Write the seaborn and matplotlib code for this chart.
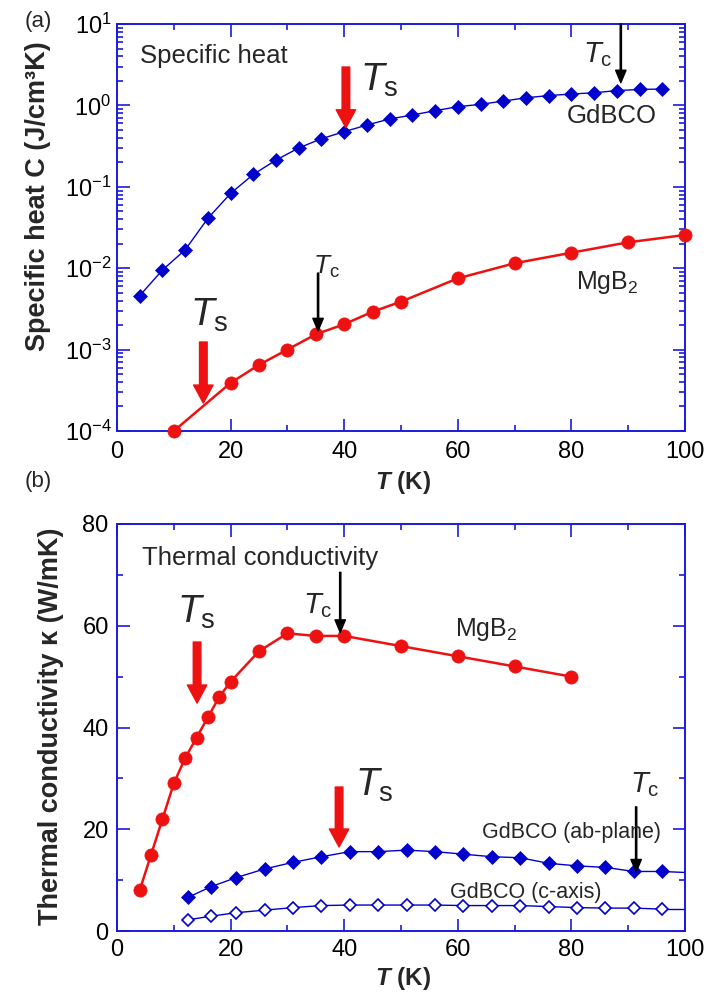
import matplotlib
matplotlib.use('Agg')
import matplotlib.pyplot as plt
import seaborn as sns
from matplotlib.ticker import MultipleLocator, LogLocator, NullFormatter

# ---------------- data ----------------
# (a) specific heat
gd_T_c = [4, 8, 12, 16, 20, 24, 28, 32, 36, 40, 44, 48, 52, 56, 60, 64, 68, 72, 76, 80, 84, 88, 92, 96]
gd_C = [0.0046, 0.0095, 0.0168, 0.041, 0.083, 0.142, 0.213, 0.30, 0.39, 0.475,
        0.574, 0.681, 0.762, 0.861, 0.964, 1.03, 1.13, 1.24, 1.32, 1.38, 1.43, 1.52, 1.57, 1.59]
mg_T_c = [10, 20, 25, 30, 35, 40, 45, 50, 60, 70, 80, 90, 100]
mg_C = [1.0e-4, 3.9e-4, 6.5e-4, 1.0e-3, 1.54e-3, 2.05e-3, 2.92e-3, 3.88e-3,
        7.5e-3, 1.15e-2, 1.55e-2, 2.08e-2, 2.56e-2]

# (b) thermal conductivity
mg_T_k = [4, 6, 8, 10, 12, 14, 16, 18, 20, 25, 30, 35, 40, 50, 60, 70, 80]
mg_k = [8, 15, 22, 29, 34, 38, 42, 46, 49, 55, 58.5, 58, 58, 56, 54, 52, 50]
ab_T = [12.5, 16.5, 21, 26, 31, 36, 41, 46, 51, 56, 61, 66, 71, 76, 81, 86, 91, 96]
ab_k = [6.6, 8.7, 10.5, 12.2, 13.5, 14.6, 15.6, 15.6, 15.9, 15.6, 15.1, 14.6, 14.4,
        13.3, 12.8, 12.5, 11.7, 11.7]
c_T = [12.5, 16.5, 21, 26, 31, 36, 41, 46, 51, 56, 61, 66, 71, 76, 81, 86, 91, 96]
c_k = [2.2, 2.9, 3.6, 4.1, 4.6, 5.0, 5.1, 5.1, 5.1, 5.1, 5.0, 5.0, 5.0, 4.8, 4.6,
       4.5, 4.5, 4.3]
# fitted-line continuation beyond the last measured point (to the axis edge)
tail_T = [96, 100]
ab_tail_k = [11.7, 11.5]
c_tail_k = [4.3, 4.3]

x_ticks = [0, 20, 40, 60, 80, 100]
k_ticks = [0, 20, 40, 60, 80]

# ---------------- style ----------------
sns.set_theme(style='white')
plt.rcParams['font.family'] = ['Liberation Sans', 'DejaVu Sans']
plt.rcParams.update({
    'mathtext.fontset': 'custom',
    'mathtext.rm': 'Liberation Sans',
    'mathtext.it': 'Liberation Sans:italic',
    'mathtext.bf': 'Liberation Sans:italic:bold',
    'axes.unicode_minus': False,
})

BLUE = '#0000cc'
AXBLUE = '#1a1ae0'
RED = '#ee1111'

fig = plt.figure(figsize=(7.2, 9.94), dpi=100)
ax1 = fig.add_axes([117 / 720, 1 - 431 / 994, 568 / 720, 407 / 994])
ax2 = fig.add_axes([117 / 720, 1 - 931 / 994, 568 / 720, 407 / 994])


def style(ax):
    ax.set_facecolor('white')
    for s in ax.spines.values():
        s.set_visible(True)
        s.set_color(AXBLUE)
        s.set_linewidth(1.4)
    ax.tick_params(which='both', direction='in', top=True, right=True, bottom=True,
                   left=True, color=AXBLUE, width=1.2, labelsize=17,
                   labelcolor='black')
    ax.tick_params(which='major', length=9)
    ax.tick_params(which='minor', length=4.5)
    ax.grid(False)


def arrow(ax, x, y0, y1, color, big):
    if big:
        props = dict(facecolor=color, edgecolor=color, width=5.5, headwidth=14,
                     headlength=13, shrink=0)
    else:
        props = dict(facecolor=color, edgecolor=color, width=0.9, headwidth=7.5,
                     headlength=9, shrink=0)
    ax.annotate('', xy=(x, y1), xytext=(x, y0), arrowprops=props,
                annotation_clip=False)


# ---------------- (a) ----------------
ax1.set_yscale('log')
sns.lineplot(x=gd_T_c, y=gd_C, ax=ax1, color=BLUE, linewidth=1.0, marker='D',
             markersize=7.5, markerfacecolor=BLUE, markeredgecolor=BLUE,
             markeredgewidth=0.5, errorbar=None, clip_on=False, zorder=3)
sns.lineplot(x=mg_T_c, y=mg_C, ax=ax1, color=RED, linewidth=1.8, marker='o',
             markersize=9.5, markerfacecolor=RED, markeredgecolor=RED,
             markeredgewidth=0.5, errorbar=None, clip_on=False, zorder=3)
ax1.set_xlim(0, 100)
ax1.set_ylim(1e-4, 10)
style(ax1)
ax1.set_xticks(x_ticks)
ax1.xaxis.set_minor_locator(MultipleLocator(10))
ax1.yaxis.set_major_locator(LogLocator(base=10, numticks=10))
ax1.yaxis.set_minor_locator(LogLocator(base=10, subs=range(2, 10), numticks=20))
ax1.yaxis.set_minor_formatter(NullFormatter())
ax1.tick_params(axis='x', pad=7)
ax1.tick_params(axis='y', pad=4)

ax1.set_ylabel('Specific heat C (J/cm³K)', fontsize=19.5, fontweight='bold')
ax1.yaxis.set_label_coords((38 - 117) / 568, (431 - 196) / 407)
ax1.yaxis.label.set_verticalalignment('center')
ax1.set_xlabel(r'$\mathbf{T}$ (K)', fontsize=17.5, fontweight='bold')
ax1.xaxis.set_label_coords((403 - 117) / 568, (431 - 483) / 407)
ax1.xaxis.label.set_verticalalignment('center')

ax1.text(4.0, 4.1, 'Specific heat', fontsize=18.5, va='center', ha='left')
ax1.text(42.8, 2.05, r'$T_\mathrm{s}$', fontsize=28, va='center', ha='left')
arrow(ax1, 40.3, 2.96, 0.53, RED, True)
ax1.text(82.0, 4.16, r'$T_\mathrm{c}$', fontsize=21, va='center', ha='left')
arrow(ax1, 88.7, 10, 1.9, 'black', False)
ax1.text(87.1, 0.741, 'GdBCO', fontsize=18.5, va='center', ha='center')
ax1.text(86.4, 6.6e-3, r'MgB$_2$', fontsize=18, va='center', ha='center')
ax1.text(34.5, 1.03e-2, r'$T_\mathrm{c}$', fontsize=19, va='center', ha='left')
arrow(ax1, 35.4, 8.7e-3, 1.7e-3, 'black', False)
ax1.text(12.9, 2.66e-3, r'$T_\mathrm{s}$', fontsize=28, va='center', ha='left')
arrow(ax1, 15.2, 1.24e-3, 2.2e-4, RED, True)

# ---------------- (b) ----------------
sns.lineplot(x=mg_T_k, y=mg_k, ax=ax2, color=RED, linewidth=1.8, marker='o',
             markersize=9.5, markerfacecolor=RED, markeredgecolor=RED,
             markeredgewidth=0.5, errorbar=None, clip_on=False, zorder=3)
sns.lineplot(x=ab_T, y=ab_k, ax=ax2, color=BLUE, linewidth=1.0, marker='D',
             markersize=7.2, markerfacecolor=BLUE, markeredgecolor=BLUE,
             markeredgewidth=0.5, errorbar=None, zorder=3)
sns.lineplot(x=tail_T, y=ab_tail_k, ax=ax2, color=BLUE, linewidth=1.0,
             errorbar=None, zorder=2)
sns.lineplot(x=c_T, y=c_k, ax=ax2, color=BLUE, linewidth=1.0, marker='D',
             markersize=6.5, markerfacecolor='white', markeredgecolor=BLUE,
             markeredgewidth=1.2, errorbar=None, zorder=3)
sns.lineplot(x=tail_T, y=c_tail_k, ax=ax2, color=BLUE, linewidth=1.0,
             errorbar=None, zorder=2)
ax2.set_xlim(0, 100)
ax2.set_ylim(0, 80)
style(ax2)
ax2.set_xticks(x_ticks)
ax2.set_yticks(k_ticks)
ax2.xaxis.set_minor_locator(MultipleLocator(10))
ax2.yaxis.set_minor_locator(MultipleLocator(10))
ax2.tick_params(axis='x', pad=6)
ax2.tick_params(axis='y', pad=6)

ax2.set_ylabel('Thermal conductivity κ (W/mK)', fontsize=19.5, fontweight='bold')
ax2.yaxis.set_label_coords((51 - 117) / 568, (931 - 726) / 407)
ax2.yaxis.label.set_verticalalignment('center')
ax2.set_xlabel(r'$\mathbf{T}$ (K)', fontsize=17.5, fontweight='bold')
ax2.xaxis.set_label_coords((403 - 117) / 568, (931 - 978) / 407)
ax2.xaxis.label.set_verticalalignment('center')

ax2.text(4.4, 73.3, 'Thermal conductivity', fontsize=18.5, va='center', ha='left')
ax2.text(10.6, 62.7, r'$T_\mathrm{s}$', fontsize=28, va='center', ha='left')
arrow(ax2, 14.1, 56.8, 44.8, RED, True)
ax2.text(32.7, 64.0, r'$T_\mathrm{c}$', fontsize=21, va='center', ha='left')
arrow(ax2, 39.3, 70.5, 58.7, 'black', False)
ax2.text(65.0, 59.3, r'MgB$_2$', fontsize=18, va='center', ha='center')
ax2.text(41.9, 28.7, r'$T_\mathrm{s}$', fontsize=28, va='center', ha='left')
arrow(ax2, 39.1, 28.3, 16.5, RED, True)
ax2.text(90.3, 28.7, r'$T_\mathrm{c}$', fontsize=21, va='center', ha='left')
arrow(ax2, 91.4, 24.4, 11.6, 'black', False)
ax2.text(80.1, 19.3, 'GdBCO (ab-plane)', fontsize=15.5, va='center', ha='center')
ax2.text(72.0, 7.5, 'GdBCO (c-axis)', fontsize=15.5, va='center', ha='center')

fig.text(38 / 720, 1 - 22 / 994, '(a)', fontsize=16, va='center', ha='center')
fig.text(38 / 720, 1 - 482 / 994, '(b)', fontsize=16, va='center', ha='center')

fig.savefig('out.png', dpi=100)
